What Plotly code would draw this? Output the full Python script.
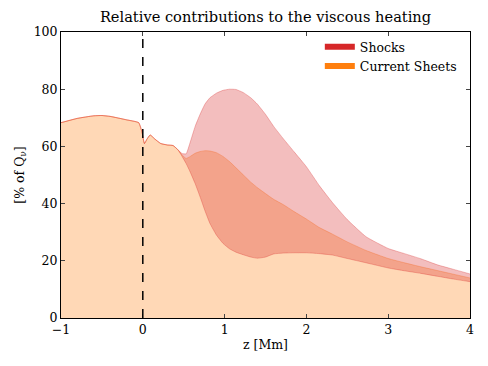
import plotly.graph_objects as go

# height above the photosphere [Mm]
z = [-1.0, -0.8, -0.6, -0.5, -0.4, -0.2, -0.05, -0.01, 0.02, 0.05, 0.09, 0.15,
     0.22, 0.3, 0.37, 0.43, 0.48, 0.53, 0.58, 0.64, 0.7, 0.76, 0.82, 0.9,
     0.98, 1.06, 1.14, 1.23, 1.32, 1.4, 1.5, 1.6, 1.72, 1.85, 2.0, 2.16,
     2.32, 2.5, 2.73, 3.0, 3.2, 3.4, 3.6, 3.8, 4.0]

# lower edge of the shock band (= current sheets only below it)
shock_lower = [68.3, 69.8, 70.7, 70.8, 70.5, 69.3, 68.3, 65.0, 61.0, 62.5, 64.0, 62.5,
               61.0, 60.5, 60.3, 58.8, 56.5, 54.0, 51.0, 47.0, 42.4, 37.5, 33.1, 29.0,
               26.1, 24.2, 23.0, 22.1, 21.3, 20.9, 21.3, 22.4, 22.7, 22.8, 22.8, 22.5,
               22.0, 20.8, 19.3, 17.5, 16.5, 15.6, 14.6, 13.6, 12.7]

# current sheets contribution (top of orange fill)
current_sheets = [68.3, 69.8, 70.7, 70.8, 70.5, 69.3, 68.3, 65.0, 61.0, 62.5, 64.0, 62.5,
                  61.0, 60.5, 60.3, 58.8, 57.0, 55.8, 56.5, 57.6, 58.2, 58.5, 58.4, 57.8,
                  56.5, 54.7, 52.5, 50.0, 47.5, 45.6, 43.5, 41.5, 39.6, 37.2, 34.6, 31.6,
                  29.3, 26.6, 23.6, 20.8, 19.3, 17.9, 16.6, 15.3, 14.0]

# upper edge of the shock band
shocks = [68.3, 69.8, 70.7, 70.8, 70.5, 69.3, 68.3, 65.0, 61.0, 62.5, 64.0, 62.5,
          61.0, 60.5, 60.3, 58.8, 57.5, 57.4, 61.5, 67.0, 71.2, 74.8, 77.0, 78.6,
          79.6, 80.0, 79.9, 78.8, 77.0, 74.8, 71.2, 67.0, 62.6, 58.1, 52.9, 46.2,
          40.3, 34.4, 28.4, 24.3, 22.5, 20.7, 18.6, 17.0, 15.4]

RED = "rgba(214,39,40,0.3)"
ORANGE = "rgba(255,127,14,0.3)"
FONT = "DejaVu Serif"
LINE = dict(width=1, shape="spline", smoothing=0.4)

fig = go.Figure()

fig.add_trace(go.Scatter(
    x=z, y=current_sheets, mode="lines", fill="tozeroy",
    fillcolor=ORANGE, line=dict(color=ORANGE, **LINE),
    showlegend=False, hoverinfo="skip",
))
fig.add_trace(go.Scatter(
    x=z, y=shock_lower, mode="lines",
    line=dict(color=RED, **LINE),
    showlegend=False, hoverinfo="skip",
))
fig.add_trace(go.Scatter(
    x=z, y=shocks, mode="lines", fill="tonexty",
    fillcolor=RED, line=dict(color=RED, **LINE),
    showlegend=False, hoverinfo="skip",
))

# legend-only entries
fig.add_trace(go.Scatter(x=[None], y=[None], mode="none", fill="toself",
                         fillcolor="#D62728", name="Shocks"))
fig.add_trace(go.Scatter(x=[None], y=[None], mode="none", fill="toself",
                         fillcolor="#FF7F0E", name="Current Sheets"))

fig.add_vline(x=0, line_dash="dash", line_color="black", line_width=1.5)

axis_common = dict(
    showgrid=False, zeroline=False, ticks="inside", ticklen=4,
    showline=True, linecolor="black", linewidth=1, mirror="ticks",
    automargin=False,
    tickfont=dict(family=FONT, size=12.5, color="black"),
)

# the page body adds an 8px margin, so the figure is shrunk by that much
fig.update_layout(
    width=480, height=358,
    margin=dict(l=53, r=18, t=24, b=48),
    plot_bgcolor="white", paper_bgcolor="white",
    font=dict(family=FONT, color="black"),
    title=dict(text="Relative contributions to the viscous heating",
               x=0.5, xref="paper", xanchor="center",
               y=0.975, yref="container", yanchor="middle",
               font=dict(family=FONT, size=14.6, color="black")),
    xaxis=dict(range=[-1, 4], dtick=1, title=dict(text="z [Mm]", standoff=4,
               font=dict(family=FONT, size=12.5)), **axis_common),
    yaxis=dict(range=[0, 100], dtick=20, title=dict(text="[% of Q<sub>ν</sub>]",
               standoff=6, font=dict(family=FONT, size=12.5)), **axis_common),
    legend=dict(x=0.98, xanchor="right", y=1.0, yanchor="top",
                traceorder="normal", tracegroupgap=0,
                bgcolor="rgba(0,0,0,0)", font=dict(family=FONT, size=12.5)),
)

fig.write_html("out.html")
